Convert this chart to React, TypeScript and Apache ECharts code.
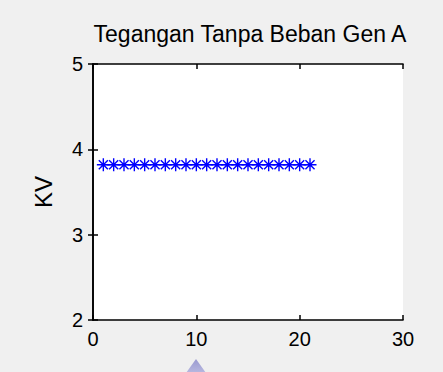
import React, { useEffect, useRef } from "react";
import * as echarts from "echarts";

const sampleIndex = [1, 2, 3, 4, 5, 6, 7, 8, 9, 10, 11, 12, 13, 14, 15, 16, 17, 18, 19, 20, 21];
const kvValues = [3.82, 3.82, 3.82, 3.82, 3.82, 3.82, 3.82, 3.82, 3.82, 3.82, 3.82, 3.82, 3.82, 3.82, 3.82, 3.82, 3.82, 3.82, 3.82, 3.82, 3.82];
const titleText = "Tegangan Tanpa Beban Gen A";
const yName = "KV";

const ASTERISK = "path://M0,-1L0,1M-1,0L1,0M-0.7,-0.7L0.7,0.7M-0.7,0.7L0.7,-0.7";

export default function App() {
  const ref = useRef<HTMLDivElement>(null);
  useEffect(() => {
    document.body.style.margin = "0";
    const chart = echarts.init(ref.current!, null, { renderer: "svg" });
    const font = "'Liberation Sans', Arial, sans-serif";
    const tickLabel = { color: "#000", fontSize: 20, fontFamily: font };
    const axisLine = { show: true, lineStyle: { color: "#000", width: 1.6 } };
    const axisTick = { show: true, inside: true, length: 5, lineStyle: { color: "#000", width: 1.5 } };
    chart.setOption({
      animation: false,
      backgroundColor: "#f0f0f0",
      title: {
        text: titleText,
        left: 245,
        textAlign: "center",
        top: 17,
        textStyle: { color: "#000", fontSize: 23, fontWeight: "normal", fontFamily: font },
      },
      grid: { left: 93, right: 40, top: 64, bottom: 52, show: true, backgroundColor: "#fff", borderWidth: 0 },
      xAxis: [
        {
          type: "value", min: 0, max: 30, interval: 10, position: "bottom",
          axisLine, axisTick, splitLine: { show: false },
          axisLabel: { ...tickLabel, margin: 9 },
        },
        {
          type: "value", min: 0, max: 30, interval: 10, position: "top",
          axisLine, axisTick, splitLine: { show: false }, axisLabel: { show: false },
        },
      ],
      yAxis: [
        {
          type: "value", min: 2, max: 5, interval: 1, position: "left",
          axisLine, axisTick, splitLine: { show: false },
          axisLabel: { ...tickLabel, margin: 10 },
          name: yName, nameLocation: "middle", nameGap: 38, nameRotate: 90,
          nameTextStyle: { color: "#000", fontSize: 24, fontFamily: font },
        },
        {
          type: "value", min: 2, max: 5, interval: 1, position: "right",
          axisLine, axisTick, splitLine: { show: false }, axisLabel: { show: false },
        },
      ],
      series: [
        {
          type: "line",
          xAxisIndex: 0,
          yAxisIndex: 0,
          data: sampleIndex.map((x, i) => [x, kvValues[i]]),
          symbol: ASTERISK,
          symbolSize: 13,
          lineStyle: { color: "#0000ff", width: 1 },
          itemStyle: { color: "#0000ff", borderColor: "#0000ff", borderWidth: 1.4 },
        },
      ],
      graphic: [
        {
          type: "polygon",
          shape: { points: [[196, 359], [186, 373], [206, 373]] },
          style: {
            fill: new echarts.graphic.LinearGradient(0, 0, 0, 1, [
              { offset: 0, color: "#9a9ad0" },
              { offset: 1, color: "#b8b8e0" },
            ]),
          },
        },
      ],
    });
    return () => chart.dispose();
  }, []);
  return <div ref={ref} style={{ width: 443, height: 372, position: "absolute", left: 0, top: 0 }} />;
}
